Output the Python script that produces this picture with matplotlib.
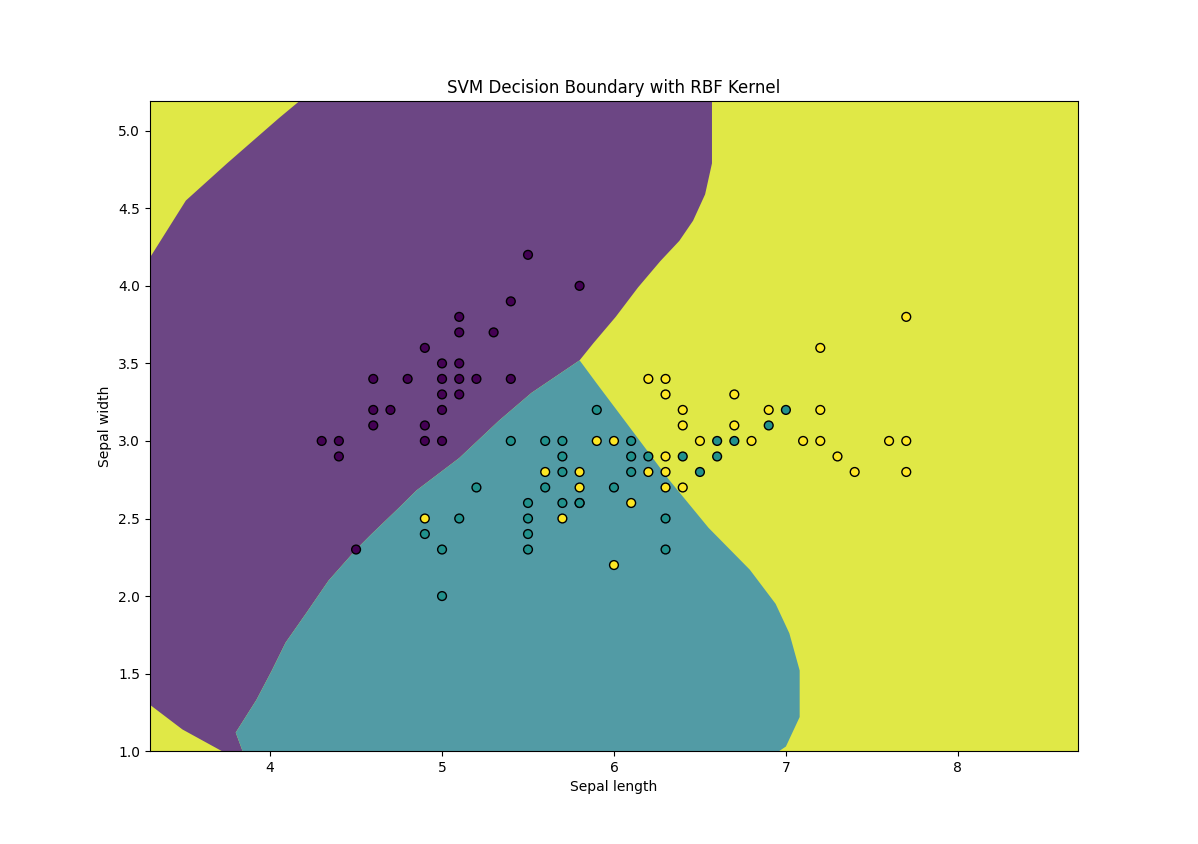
import matplotlib.pyplot as plt

# points: (sepal length, sepal width)
setosa_x = [5.5, 5.8, 5.4, 5.1, 5.1, 5.3, 4.9, 5.0, 5.1, 4.6, 4.8, 5.0, 5.1, 5.2, 5.4,
            5.0, 5.1, 4.6, 4.7, 5.0, 4.6, 4.9, 4.3, 4.4, 4.9, 5.0, 4.4, 4.5]
setosa_y = [4.2, 4.0, 3.9, 3.8, 3.7, 3.7, 3.6, 3.5, 3.5, 3.4, 3.4, 3.4, 3.4, 3.4, 3.4,
            3.3, 3.3, 3.2, 3.2, 3.2, 3.1, 3.1, 3.0, 3.0, 3.0, 3.0, 2.9, 2.3]

versicolor_x = [5.9, 5.4, 5.6, 5.7, 5.7, 5.7, 5.2, 5.6, 6.0, 5.5, 5.7, 5.8, 5.1, 5.5,
                4.9, 5.5, 5.0, 5.5, 5.0, 7.0, 6.9, 6.1, 6.6, 6.7, 6.1, 6.2, 6.4, 6.6,
                6.1, 6.5, 5.8, 6.3, 6.3]
versicolor_y = [3.2, 3.0, 3.0, 3.0, 2.9, 2.8, 2.7, 2.7, 2.7, 2.6, 2.6, 2.6, 2.5, 2.5,
                2.4, 2.4, 2.3, 2.3, 2.0, 3.2, 3.1, 3.0, 3.0, 3.0, 2.9, 2.9, 2.9, 2.9,
                2.8, 2.8, 2.6, 2.5, 2.3]

virginica_x = [7.7, 7.2, 6.2, 6.3, 6.3, 6.7, 6.4, 6.9, 7.2, 6.4, 6.7, 5.9, 6.0, 6.5,
               6.8, 7.1, 7.2, 7.6, 7.7, 6.3, 7.3, 5.6, 5.8, 6.2, 6.3, 7.4, 7.7, 5.8,
               6.3, 6.4, 5.7, 6.1, 4.9, 6.0]
virginica_y = [3.8, 3.6, 3.4, 3.4, 3.3, 3.3, 3.2, 3.2, 3.2, 3.1, 3.1, 3.0, 3.0, 3.0,
               3.0, 3.0, 3.0, 3.0, 3.0, 2.9, 2.9, 2.8, 2.8, 2.8, 2.8, 2.8, 2.8, 2.7,
               2.7, 2.7, 2.5, 2.6, 2.5, 2.2]

# decision region outlines
purple_x = [3.30, 3.51, 3.75, 4.05, 4.18, 6.57, 6.57, 6.53, 6.46, 6.38, 6.27, 6.14,
            6.01, 5.88, 5.80, 5.52, 5.33, 5.10, 4.85, 4.75, 4.59, 4.50, 4.34, 4.21,
            4.09, 4.01, 3.92, 3.80, 3.84, 3.72, 3.49, 3.30]
purple_y = [4.18, 4.55, 4.79, 5.08, 5.20, 5.20, 4.79, 4.59, 4.42, 4.29, 4.16, 3.99,
            3.80, 3.63, 3.52, 3.31, 3.13, 2.89, 2.68, 2.57, 2.40, 2.30, 2.10, 1.89,
            1.70, 1.52, 1.33, 1.12, 1.00, 1.00, 1.14, 1.30]
teal_x = [5.80, 5.90, 6.09, 6.32, 6.55, 6.79, 6.94, 7.02, 7.08, 7.08, 7.00, 6.96,
          3.84, 3.80, 3.92, 4.01, 4.09, 4.21, 4.34, 4.50, 4.59, 4.75, 4.85, 5.10,
          5.33, 5.52]
teal_y = [3.52, 3.37, 3.09, 2.75, 2.44, 2.17, 1.95, 1.76, 1.52, 1.22, 1.03, 1.00,
          1.00, 1.12, 1.33, 1.52, 1.70, 1.89, 2.10, 2.30, 2.40, 2.57, 2.68, 2.89,
          3.13, 3.31]

fig, ax = plt.subplots(figsize=(11.98, 8.44), dpi=100)

xmin, xmax, ymin, ymax = 3.3, 8.7, 1.0, 5.19
ax.fill([xmin, xmax, xmax, xmin], [ymin, ymin, ymax, ymax], color='#e0e846', lw=0)
ax.fill(purple_x, purple_y, color='#6c4684', lw=0)
ax.fill(teal_x, teal_y, color='#529ba5', lw=0)

xs = setosa_x + versicolor_x + virginica_x
ys = setosa_y + versicolor_y + virginica_y
labels = [0] * len(setosa_x) + [1] * len(versicolor_x) + [2] * len(virginica_x)
ax.scatter(xs, ys, c=labels, cmap='viridis', edgecolors='k', s=40, zorder=3)

ax.set_xlim(xmin, xmax)
ax.set_ylim(ymin, ymax)
ax.set_xlabel("Sepal length")
ax.set_ylabel("Sepal width")
ax.set_title("SVM Decision Boundary with RBF Kernel")
plt.savefig("out.png")
